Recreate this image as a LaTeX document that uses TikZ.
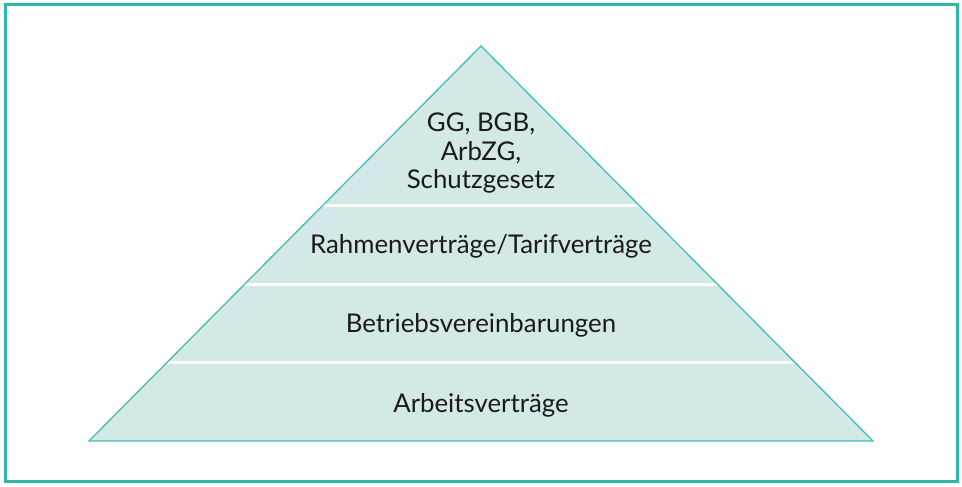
\documentclass[tikz,border=0pt]{standalone}
\usepackage{fontspec}
\setmainfont{Lato}
\usepackage{tikz}
\usetikzlibrary{positioning,calc}

\definecolor{frameteal}{HTML}{2DB8AD}
\definecolor{edgeteal}{HTML}{45BDB4}
\definecolor{layerfill}{HTML}{D3E9E8}
\definecolor{textgray}{HTML}{1A1A1A}

\begin{document}
\begin{tikzpicture}[
  x=1pt,y=-1pt,
  frame/.style={draw=frameteal,line width=3pt},
  pyramid/.style={draw=edgeteal,line width=1.3pt,line join=miter},
  divider/.style={draw=white,line width=3pt},
  layer/.style={font=\fontsize{25.8}{28.5}\selectfont,text=textgray,align=center,inner sep=0pt},
]
\useasboundingbox (0,0) rectangle (962,487);

% === FRAME ===
\draw[frame] (5,5) rectangle (957,481);

% === PYRAMID ===
\coordinate (apex) at (481,46);
\coordinate (baseL) at (89,441);
\coordinate (baseR) at (873,441);

\fill[layerfill] (apex) -- (baseL) -- (baseR) -- cycle;
\begin{scope}
  \clip (apex) -- (baseL) -- (baseR) -- cycle;
  \foreach \yy in {205,284,362}
    \draw[divider] (80,\yy) -- (880,\yy);
\end{scope}
\draw[pyramid] (apex) -- (baseL) -- (baseR) -- cycle;

% Layer labels
\node[layer] (gesetz) at (481,153.5) {GG, BGB,\\ArbZG,\\Schutzgesetz};
\node[layer,anchor=base] (rahmen) at (481,253) {Rahmenverträge/Tarifverträge};
\node[layer,anchor=base] (betrieb) at (481,332) {Betriebsvereinbarungen};
\node[layer,anchor=base] (arbeit) at (481,412) {Arbeitsverträge};

\end{tikzpicture}
\end{document}
